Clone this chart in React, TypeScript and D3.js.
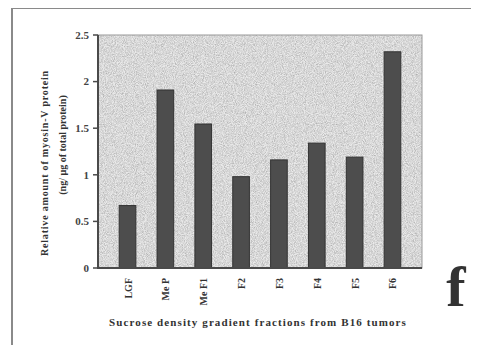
import { useEffect, useRef } from "react";
import * as d3 from "d3";

const categories = ["LGF", "Me P", "Me F1", "F2", "F3", "F4", "F5", "F6"];
const values = [0.67, 1.91, 1.545, 0.98, 1.16, 1.34, 1.19, 2.32];
const yTicks = [0, 0.5, 1, 1.5, 2, 2.5];
const yTickLabels = ["0", "0.5", "1", "1.5", "2", "2.5"];

const W = 479;
const H = 353;
const FONT = "'Liberation Serif', 'DejaVu Serif', serif";

const App = () => {
  const ref = useRef<SVGSVGElement>(null);

  useEffect(() => {
    const svg = d3.select(ref.current);
    svg.selectAll("*").remove();

    const left = 98;
    const top = 35;
    const right = 422;
    const bottom = 268;

    const x = d3.scaleBand().domain(categories).range([left, right]).padding(0.56);
    const y = d3.scaleLinear().domain([0, 2.5]).range([bottom, top]);

    // speckled fill like the scanned figure
    const defs = svg.append("defs");
    const filter = defs
      .append("filter")
      .attr("id", "grain")
      .attr("x", 0)
      .attr("y", 0)
      .attr("width", 1)
      .attr("height", 1);
    filter
      .append("feTurbulence")
      .attr("type", "fractalNoise")
      .attr("baseFrequency", 1.1)
      .attr("numOctaves", 2)
      .attr("seed", 3)
      .attr("result", "noise");
    filter
      .append("feColorMatrix")
      .attr("in", "noise")
      .attr("type", "matrix")
      .attr("values", "1.2 0 0 0 0.15  1.2 0 0 0 0.15  1.2 0 0 0 0.15  0 0 0 0 0.55")
      .attr("result", "dots");
    filter
      .append("feComposite")
      .attr("in", "dots")
      .attr("in2", "SourceGraphic")
      .attr("operator", "atop");

    // outer frame
    svg.append("rect").attr("width", W).attr("height", H).attr("fill", "#fff");
    svg
      .append("path")
      .attr("d", `M12,${H} L12,8 L${W},8`)
      .attr("fill", "none")
      .attr("stroke", "#8a8a8a")
      .attr("stroke-width", 2);
    svg
      .append("line")
      .attr("x1", 12)
      .attr("x2", W)
      .attr("y1", H - 1)
      .attr("y2", H - 1)
      .attr("stroke", "#d8d8d8")
      .attr("stroke-width", 1);

    // plot background
    svg
      .append("rect")
      .attr("x", left)
      .attr("y", top)
      .attr("width", right - left)
      .attr("height", bottom - top)
      .attr("fill", "#cbcbcb")
      .attr("filter", "url(#grain)");
    svg
      .append("rect")
      .attr("x", left)
      .attr("y", top)
      .attr("width", right - left)
      .attr("height", bottom - top)
      .attr("fill", "none")
      .attr("stroke", "#9a9a9a")
      .attr("stroke-width", 1);

    // bars
    svg
      .selectAll("rect.bar")
      .data(values)
      .enter()
      .append("rect")
      .attr("class", "bar")
      .attr("x", (d, i) => x(categories[i])!)
      .attr("y", (d) => y(d))
      .attr("width", x.bandwidth())
      .attr("height", (d) => bottom - y(d))
      .attr("fill", "#4d4d4d")
      .attr("stroke", "#333")
      .attr("stroke-width", 1);

    // axes
    svg
      .append("line")
      .attr("x1", left)
      .attr("x2", left)
      .attr("y1", top)
      .attr("y2", bottom)
      .attr("stroke", "#4a4a4a")
      .attr("stroke-width", 2);
    svg
      .append("line")
      .attr("x1", left - 1)
      .attr("x2", right)
      .attr("y1", bottom)
      .attr("y2", bottom)
      .attr("stroke", "#4a4a4a")
      .attr("stroke-width", 2);

    svg
      .selectAll("line.ytick")
      .data(yTicks)
      .enter()
      .append("line")
      .attr("class", "ytick")
      .attr("x1", left - 5)
      .attr("x2", left)
      .attr("y1", (d) => y(d))
      .attr("y2", (d) => y(d))
      .attr("stroke", "#4a4a4a")
      .attr("stroke-width", 1.5);

    svg
      .selectAll("text.ylab")
      .data(yTicks)
      .enter()
      .append("text")
      .attr("class", "ylab")
      .attr("x", left - 9)
      .attr("y", (d) => y(d))
      .attr("dy", "0.35em")
      .attr("text-anchor", "end")
      .style("font-family", FONT)
      .style("font-size", "11px")
      .style("font-weight", "bold")
      .style("fill", "#444")
      .text((d, i) => yTickLabels[i]);

    svg
      .selectAll("text.xlab")
      .data(categories)
      .enter()
      .append("text")
      .attr("class", "xlab")
      .attr("transform", (d) => `translate(${x(d)! + x.bandwidth() / 2 + 4},278) rotate(-90)`)
      .attr("text-anchor", "end")
      .style("font-family", FONT)
      .style("font-size", "10px")
      .style("font-weight", "bold")
      .style("fill", "#333")
      .text((d) => d);

    // y title
    svg
      .append("text")
      .attr("transform", "translate(48,163) rotate(-90)")
      .attr("text-anchor", "middle")
      .style("font-family", FONT)
      .style("font-size", "10px")
      .style("font-weight", "bold")
      .style("letter-spacing", "0.8px")
      .style("fill", "#333")
      .text("Relative amount of myosin-V protein");
    svg
      .append("text")
      .attr("transform", "translate(66,145) rotate(-90)")
      .attr("text-anchor", "middle")
      .style("font-family", FONT)
      .style("font-size", "10px")
      .style("font-weight", "bold")
      .style("fill", "#333")
      .text("(ng/ µg of total protein)");

    // x title
    svg
      .append("text")
      .attr("x", 258)
      .attr("y", 326)
      .attr("text-anchor", "middle")
      .style("font-family", FONT)
      .style("font-size", "11px")
      .style("font-weight", "bold")
      .style("letter-spacing", "1.1px")
      .style("fill", "#333")
      .text("Sucrose density gradient fractions from B16 tumors");

    // panel letter
    svg
      .append("text")
      .attr("x", 456)
      .attr("y", 306)
      .attr("text-anchor", "middle")
      .style("font-family", FONT)
      .style("font-size", "58px")
      .style("font-weight", "bold")
      .style("fill", "#333")
      .text("f");
  }, []);

  return (
    <div style={{ margin: -8 }}>
      <svg ref={ref} width={W} height={H} style={{ display: "block" }} />
    </div>
  );
};

export default App;
